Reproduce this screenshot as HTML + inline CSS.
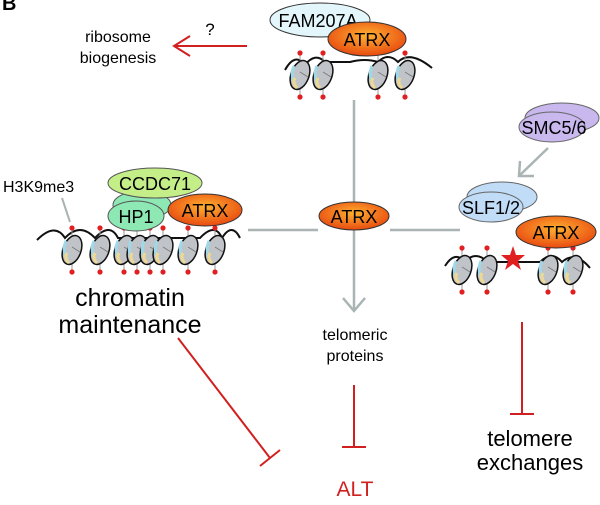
<!DOCTYPE html>
<html><head><meta charset="utf-8"><style>
html,body{margin:0;padding:0;background:#fff;}
svg{display:block;font-family:"Liberation Sans",Arial,sans-serif;}
</style></head><body>
<svg width="600" height="505" viewBox="0 0 600 505" xmlns="http://www.w3.org/2000/svg">
<defs>
<radialGradient id="og" cx="50%" cy="40%" r="60%"><stop offset="0" stop-color="#ffb030"/><stop offset="1" stop-color="#e84a10"/></radialGradient>
<g id="nuc">
<line x1="0" y1="-22" x2="0" y2="22" stroke="#999" stroke-width="1"/>
<ellipse cx="0" cy="0" rx="9" ry="15" transform="rotate(20)" fill="#c0c4c8" stroke="#111" stroke-width="1.5"/>
<path d="M-6,-9 Q-10,0 -5,9" stroke="#9fd8e8" stroke-width="3" fill="none"/>
<path d="M-5,3 Q-8,8 -3,13" stroke="#f0d890" stroke-width="3" fill="none"/>
<line x1="0" y1="-3" x2="8" y2="2" stroke="#777" stroke-width="0.8"/>
<circle cx="0" cy="-22" r="2.6" fill="#e02020"/>
<circle cx="0" cy="22" r="2.6" fill="#e02020"/>
</g>
</defs>
<text x="2" y="10" font-size="20" font-weight="bold">B</text>

<!-- top -->
<path d="M285,70 Q295,52 305,65 Q315,52 325,62 L350,62 Q365,58 378,62 Q388,52 398,62 Q410,50 432,68" stroke="#111" stroke-width="2" fill="none"/>
<use href="#nuc" x="300" y="75"/><use href="#nuc" x="323" y="75"/><use href="#nuc" x="378" y="75"/><use href="#nuc" x="405" y="75"/>
<ellipse cx="320" cy="20" rx="50" ry="17" fill="#e2f6fb" stroke="#333"/>
<text x="318" y="27" font-size="18" text-anchor="middle">FAM207A</text>
<ellipse cx="367" cy="39" rx="39" ry="17" fill="url(#og)" stroke="#333"/>
<text x="367" y="46" font-size="18" text-anchor="middle">ATRX</text>
<text x="118" y="42" font-size="16" text-anchor="middle">ribosome</text>
<text x="118" y="63" font-size="16" text-anchor="middle">biogenesis</text>
<text x="210" y="35" font-size="17" text-anchor="middle">?</text>
<line x1="247" y1="46" x2="175" y2="46" stroke="#d02020" stroke-width="2"/>
<polyline points="190,36 174,46 190,56" stroke="#d02020" stroke-width="2" fill="none"/>

<!-- center -->
<line x1="354" y1="100" x2="354" y2="202" stroke="#aab4b4" stroke-width="2.5"/>
<line x1="248" y1="230" x2="318" y2="230" stroke="#aab4b4" stroke-width="2.5"/>
<line x1="390" y1="230" x2="460" y2="230" stroke="#aab4b4" stroke-width="2.5"/>
<line x1="354" y1="230" x2="354" y2="310" stroke="#aab4b4" stroke-width="2.5"/>
<polyline points="343,298 354,311 365,298" stroke="#aab4b4" stroke-width="2.5" fill="none"/>
<ellipse cx="354" cy="216" rx="35" ry="14" fill="url(#og)" stroke="#333"/>
<text x="354" y="223" font-size="18" text-anchor="middle">ATRX</text>
<text x="355" y="340" font-size="16" text-anchor="middle">telomeric</text>
<text x="355" y="361" font-size="16" text-anchor="middle">proteins</text>
<line x1="354" y1="385" x2="354" y2="447" stroke="#d02020" stroke-width="2"/>
<line x1="342" y1="447" x2="366" y2="447" stroke="#d02020" stroke-width="2"/>
<text x="355" y="496" font-size="21" fill="#d02020" text-anchor="middle">ALT</text>

<!-- left -->
<path d="M37,240 Q55,222 65,238 Q80,222 95,238 Q110,222 118,238 L200,238 Q215,222 222,238 Q232,222 240,238" stroke="#111" stroke-width="2" fill="none"/>
<use href="#nuc" x="72" y="250"/><use href="#nuc" x="100" y="250"/><use href="#nuc" x="124" y="250"/><use href="#nuc" x="137" y="250"/><use href="#nuc" x="150" y="250"/><use href="#nuc" x="163" y="250"/><use href="#nuc" x="188" y="250"/><use href="#nuc" x="215" y="250"/>
<line x1="62" y1="198" x2="70" y2="222" stroke="#aab4b4" stroke-width="2"/>
<text x="3" y="192" font-size="16">H3K9me3</text>
<ellipse cx="142" cy="205" rx="29" ry="14" fill="#8ee8b4" stroke="#555"/>
<ellipse cx="136" cy="216" rx="28" ry="15" fill="#8ee8b4" stroke="#555"/>
<text x="136" y="223" font-size="18" text-anchor="middle">HP1</text>
<ellipse cx="155" cy="183" rx="47" ry="15" fill="#c4ee88" stroke="#555"/>
<text x="155" y="190" font-size="18" text-anchor="middle">CCDC71</text>
<ellipse cx="205" cy="210" rx="37" ry="16" fill="url(#og)" stroke="#333"/>
<text x="205" y="217" font-size="18" text-anchor="middle">ATRX</text>
<text x="130" y="306" font-size="25" text-anchor="middle">chromatin</text>
<text x="130" y="333" font-size="25" text-anchor="middle">maintenance</text>
<line x1="178" y1="338" x2="270" y2="458" stroke="#d02020" stroke-width="2"/>
<line x1="260" y1="466" x2="280" y2="450" stroke="#d02020" stroke-width="2"/>

<!-- right -->
<path d="M445,266 Q455,250 465,262 Q475,250 488,262 L540,262 Q552,250 562,262 Q575,250 590,268" stroke="#111" stroke-width="2" fill="none"/>
<use href="#nuc" x="462" y="270"/><use href="#nuc" x="487" y="270"/><use href="#nuc" x="548" y="270"/><use href="#nuc" x="573" y="270"/>
<polygon points="513,246 516,255 525,255 518,261 521,270 513,264 505,270 508,261 501,255 510,255" fill="#e02020"/>
<ellipse cx="562" cy="118" rx="37" ry="15" fill="#c8b8ee" stroke="#666"/>
<ellipse cx="552" cy="127" rx="33" ry="15" fill="#c8b8ee" stroke="#666"/>
<text x="554" y="134" font-size="18" text-anchor="middle">SMC5/6</text>
<line x1="548" y1="148" x2="520" y2="175" stroke="#aab4b4" stroke-width="2.5"/>
<polyline points="520,161 519,176 534,176" stroke="#aab4b4" stroke-width="2.5" fill="none"/>
<ellipse cx="502" cy="197" rx="35" ry="15" fill="#c0dcf6" stroke="#666"/>
<ellipse cx="491" cy="207" rx="32" ry="15" fill="#c0dcf6" stroke="#666"/>
<text x="491" y="214" font-size="18" text-anchor="middle">SLF1/2</text>
<ellipse cx="556" cy="232" rx="40" ry="16" fill="url(#og)" stroke="#333"/>
<text x="556" y="239" font-size="18" text-anchor="middle">ATRX</text>
<line x1="522" y1="322" x2="522" y2="414" stroke="#d02020" stroke-width="2"/>
<line x1="510" y1="414" x2="534" y2="414" stroke="#d02020" stroke-width="2"/>
<text x="530" y="446" font-size="22" text-anchor="middle">telomere</text>
<text x="530" y="470" font-size="22" text-anchor="middle">exchanges</text>
</svg>
</body></html>
